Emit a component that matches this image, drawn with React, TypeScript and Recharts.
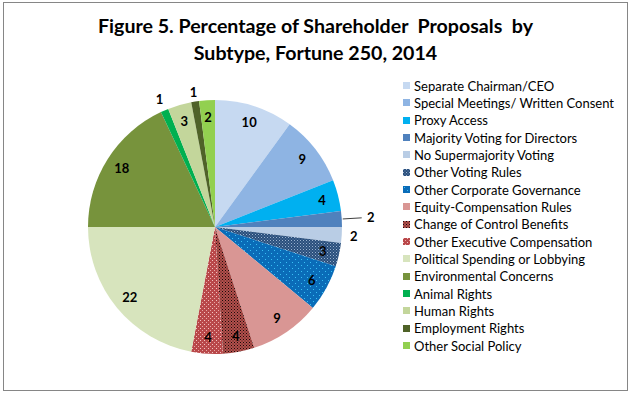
import React from 'react';
import { PieChart, Pie, Cell, Legend } from 'recharts';

// Subtypes in clockwise order starting at 12 o'clock
const subtypes = [
  'Separate Chairman/CEO',
  'Special Meetings/ Written Consent',
  'Proxy Access',
  'Majority Voting for Directors',
  'No Supermajority Voting',
  'Other Voting Rules',
  'Other Corporate Governance',
  'Equity-Compensation Rules',
  'Change of Control Benefits',
  'Other Executive Compensation',
  'Political Spending or Lobbying',
  'Environmental Concerns',
  'Animal Rights',
  'Human Rights',
  'Employment Rights',
  'Other Social Policy',
];

const shares = [10, 9, 4, 2, 2, 3, 6, 9, 4, 4, 22, 18, 1, 3, 1, 2];

const fills = [
  '#C6D9F1',
  '#8EB4E3',
  '#00B0F0',
  '#4F81BD',
  '#B9CDE5',
  'url(#dotsNavy)',
  'url(#dotsBlue)',
  '#D99694',
  'url(#dotsDark)',
  'url(#dotsLight)',
  '#D7E4BD',
  '#77933C',
  '#00B050',
  '#C3D69B',
  '#4F6228',
  '#92D050',
];

const data = subtypes.map((name, i) => ({ name, value: shares[i], fill: fills[i] }));

// small slices whose labels sit outside the pie
const outside: Record<string, { gap: number; leader?: boolean }> = {
  'Majority Voting for Directors': { gap: 29, leader: true },
  'No Supermajority Voting': { gap: 12 },
  'Animal Rights': { gap: 13 },
  'Employment Rights': { gap: 10 },
};

const RAD = Math.PI / 180;
const FONT = 'Lato, "DejaVu Sans", sans-serif';

const renderLabel = (props: any) => {
  const { cx, cy, midAngle, outerRadius, value, name } = props;
  const out = outside[name];
  const r = out ? outerRadius + out.gap : outerRadius * 0.87;
  const cos = Math.cos(-midAngle * RAD);
  const sin = Math.sin(-midAngle * RAD);
  const x = cx + r * cos;
  const y = cy + r * sin;
  return (
    <g key={`lbl-${name}`}>
      {out && out.leader && (
        <line
          x1={cx + (outerRadius + 1) * cos}
          y1={cy + (outerRadius + 1) * sin}
          x2={cx + (outerRadius + 20) * cos}
          y2={cy + (outerRadius + 19) * sin}
          stroke="#404040"
          strokeWidth={1}
        />
      )}
      <text x={x} y={y} textAnchor="middle" dominantBaseline="central" fontFamily={FONT} fontSize={13} fontWeight={700} fill="#000">
        {value}
      </text>
    </g>
  );
};

const LegendList = () => (
  <div style={{ fontFamily: FONT, fontSize: 13, color: '#000' }}>
    {data.map((d) => (
      <div key={d.name} style={{ height: 17.33, display: 'flex', alignItems: 'center', whiteSpace: 'nowrap' }}>
        <svg width={7} height={7} style={{ marginRight: 4, flex: 'none' }}>
          <rect width={7} height={7} fill={d.fill} />
        </svg>
        <span>{d.name}</span>
      </div>
    ))}
  </div>
);

export default function App() {
  return (
    <div style={{ position: 'absolute', left: 0, top: 0, width: 631, height: 393, background: '#fff' }}>
      <svg width={0} height={0} style={{ position: 'absolute' }}>
        <defs>
          <pattern id="dotsNavy" width={3} height={3} patternUnits="userSpaceOnUse">
            <rect width={3} height={3} fill="#2A4F7C" />
            <rect x={0} y={0} width={1} height={1} fill="#9AB2CF" />
            <rect x={1.5} y={1.5} width={1} height={1} fill="#6F8DB3" />
          </pattern>
          <pattern id="dotsBlue" width={6} height={6} patternUnits="userSpaceOnUse">
            <rect width={6} height={6} fill="#0A6CB8" />
            <rect x={1} y={1} width={1} height={1} fill="#39C0F5" />
            <rect x={4} y={4} width={1} height={1} fill="#39C0F5" />
          </pattern>
          <pattern id="dotsDark" width={3} height={3} patternUnits="userSpaceOnUse">
            <rect width={3} height={3} fill="#B3504C" />
            <rect x={0} y={0} width={1} height={1} fill="#1A0A0A" />
            <rect x={1.5} y={1.5} width={1} height={1} fill="#3A1212" />
          </pattern>
          <pattern id="dotsLight" width={4} height={4} patternUnits="userSpaceOnUse">
            <rect width={4} height={4} fill="#B9484A" />
            <rect x={0} y={0} width={1} height={1} fill="#F2C4C2" />
            <rect x={2} y={2} width={1} height={1} fill="#E8A8A6" />
          </pattern>
        </defs>
      </svg>
      <div
        style={{
          position: 'absolute',
          left: 3,
          top: 2,
          width: 623,
          height: 387,
          border: '1px solid #868686',
        }}
      />
      <div
        style={{
          position: 'absolute',
          left: 0,
          top: 12,
          width: 631,
          textAlign: 'center',
          fontFamily: FONT,
          fontWeight: 700,
          fontSize: 19.6,
          lineHeight: '27px',
          whiteSpace: 'pre',
          color: '#000',
        }}
      >
        {'Figure 5. Percentage of Shareholder  Proposals  by\nSubtype, Fortune 250, 2014'}
      </div>
      <PieChart
        width={631}
        height={393}
        margin={{ top: 0, right: 0, bottom: 0, left: 0 }}
        style={{ position: 'absolute', left: 0, top: 0 }}
      >
        <Pie
          data={data}
          dataKey="value"
          nameKey="name"
          cx={215}
          cy={227}
          outerRadius={127}
          startAngle={90}
          endAngle={-270}
          stroke="none"
          label={renderLabel}
          labelLine={false}
          isAnimationActive={false}
        >
          {data.map((d) => (
            <Cell key={d.name} fill={d.fill} />
          ))}
        </Pie>
        <Legend
          layout="vertical"
          content={() => <LegendList />}
          wrapperStyle={{ position: 'absolute', left: 403, top: 77, width: 220 }}
        />
      </PieChart>
    </div>
  );
}
